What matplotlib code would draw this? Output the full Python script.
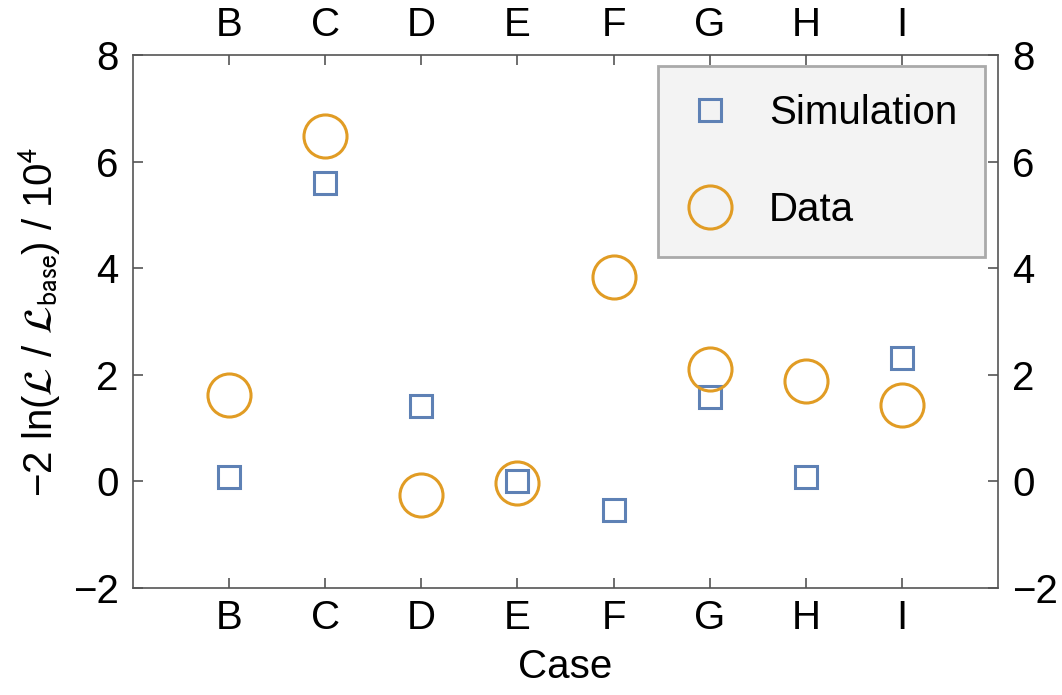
import matplotlib
matplotlib.use("Agg")
import matplotlib.pyplot as plt

cases = ["B", "C", "D", "E", "F", "G", "H", "I"]
simulation = [0.09, 5.59, 1.41, 0.01, -0.54, 1.58, 0.09, 2.31]
data = [1.62, 6.47, -0.26, -0.04, 3.83, 2.10, 1.89, 1.43]

plt.rcParams["font.family"] = ["Liberation Sans", "DejaVu Sans"]
plt.rcParams["mathtext.fontset"] = "stixsans"

blue = "#5e81b5"
orange = "#e19c24"
axis_gray = "#555555"

fig = plt.figure(figsize=(10.62, 6.95), dpi=100)
ax = fig.add_axes([0.125, 0.154, 0.815, 0.767])

x = list(range(1, len(cases) + 1))
ax.plot(x, simulation, linestyle="none", marker="s", markersize=16,
        markerfacecolor="none", markeredgecolor=blue, markeredgewidth=2.2,
        label="Simulation")
ax.plot(x, data, linestyle="none", marker="o", markersize=31,
        markerfacecolor="none", markeredgecolor=orange, markeredgewidth=2.2,
        label="Data")

ax.set_xlim(0, 9)
ax.set_ylim(-2, 8)
ax.set_xticks(x)
ax.set_xticklabels(cases)
ax.set_yticks([-2, 0, 2, 4, 6, 8])
ax.set_yticklabels(["\u22122", "0", "2", "4", "6", "8"])

ax.tick_params(axis="both", direction="in", length=7, width=1.2, color=axis_gray,
               labelsize=29, top=True, right=True, labeltop=True, labelright=True)
ax.tick_params(axis="x", pad=8)
ax.tick_params(axis="y", pad=10)
for s in ax.spines.values():
    s.set_color(axis_gray)
    s.set_linewidth(1.2)

ax.set_xlabel("Case", fontsize=29, labelpad=8)
ax.set_ylabel("\u22122 ln($\\mathcal{L}$ / $\\mathcal{L}_{\\mathrm{base}}$) / 10$^4$",
              fontsize=29, labelpad=8)

# legend box placed near the top-right corner like the original
leg = ax.legend(loc="upper right", bbox_to_anchor=(0.985, 0.979), borderaxespad=0,
                fontsize=29, frameon=True, fancybox=False, framealpha=1,
                borderpad=0.7, labelspacing=1.45, handletextpad=0.85,
                handlelength=1.2, markerscale=1.0)
leg.get_frame().set_facecolor("#f3f3f3")
leg.get_frame().set_edgecolor("#aaaaaa")
leg.get_frame().set_linewidth(2)

fig.savefig("out.png", dpi=100)
